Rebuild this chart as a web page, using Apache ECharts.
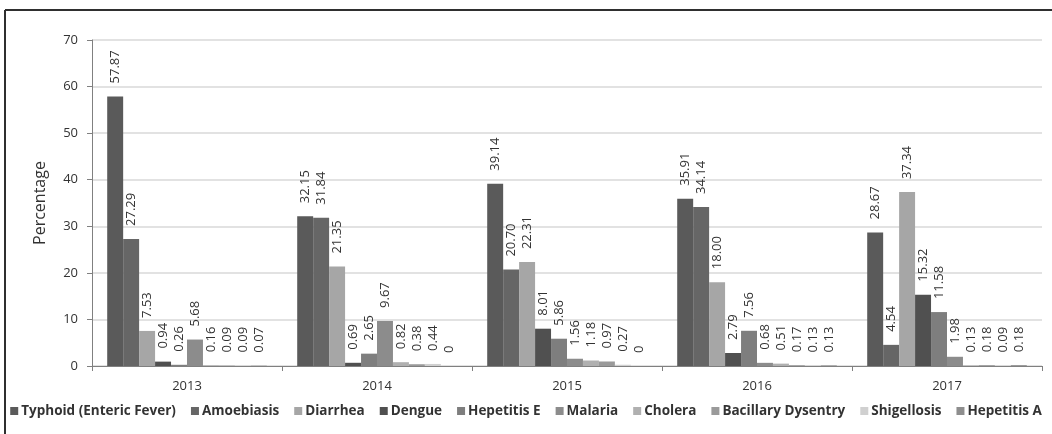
<!DOCTYPE html>
<html>
<head>
<meta charset="utf-8">
<script src="https://cdn.jsdelivr.net/npm/echarts@6/dist/echarts.min.js"></script>
<style>
  html, body { margin: 0; padding: 0; background: #ffffff; }
  #chart { width: 1052px; height: 434px; }
</style>
</head>
<body>
<div id="chart"></div>
<script>
// Years on the category axis
const years = ['2013', '2014', '2015', '2016', '2017'];

// Disease names (legend order)
const diseases = [
  'Typhoid (Enteric Fever)', 'Amoebiasis', 'Diarrhea', 'Dengue', 'Hepetitis E',
  'Malaria', 'Cholera', 'Bacillary Dysentry', 'Shigellosis', 'Hepetitis A'
];

// Percentage per disease, one value per year
const typhoid    = [57.87, 32.15, 39.14, 35.91, 28.67];
const amoebiasis = [27.29, 31.84, 20.70, 34.14, 4.54];
const diarrhea   = [7.53, 21.35, 22.31, 18.00, 37.34];
const dengue     = [0.94, 0.69, 8.01, 2.79, 15.32];
const hepetitisE = [0.26, 2.65, 5.86, 7.56, 11.58];
const malaria    = [5.68, 9.67, 1.56, 0.68, 1.98];
const cholera    = [0.16, 0.82, 1.18, 0.51, 0.13];
const bacillary  = [0.09, 0.38, 0.97, 0.17, 0.18];
const shigellosis= [0.09, 0.44, 0.27, 0.13, 0.09];
const hepetitisA = [0.07, 0, 0, 0.13, 0.18];

// Y axis ticks
const yTicks = [0, 10, 20, 30, 40, 50, 60, 70];

const seriesValues = [typhoid, amoebiasis, diarrhea, dengue, hepetitisE,
  malaria, cholera, bacillary, shigellosis, hepetitisA];

const shades = ['#5a5a5a', '#666666', '#a6a6a6', '#505050', '#7e7e7e',
  '#8c8c8c', '#b0b0b0', '#9a9a9a', '#d0d0d0', '#8e8e8e'];

const textColor = '#333333';
const font = '"Open Sans", "Liberation Sans", sans-serif';

const chart = echarts.init(document.getElementById('chart'), null, { renderer: 'canvas' });

chart.setOption({
  backgroundColor: '#ffffff',
  animation: false,
  grid: { left: 92, right: 10, top: 40, bottom: 68, containLabel: false },
  legend: {
    bottom: 11,
    left: 'center',
    itemWidth: 8,
    itemHeight: 8,
    itemGap: 15,
    icon: 'rect',
    data: diseases,
    textStyle: { fontFamily: font, fontWeight: 'bold', fontSize: 13.5, color: textColor, padding: [0, 0, 0, -2] }
  },
  xAxis: {
    type: 'category',
    data: years,
    axisLine: { lineStyle: { color: '#808080', width: 1 } },
    axisTick: { show: true, alignWithLabel: false, length: 5, lineStyle: { color: '#808080' } },
    axisLabel: { fontFamily: font, fontSize: 13, color: textColor, margin: 14 }
  },
  yAxis: {
    type: 'value',
    min: yTicks[0],
    max: yTicks[yTicks.length - 1],
    interval: 10,
    name: 'Percentage',
    nameLocation: 'middle',
    nameGap: 44,
    nameTextStyle: { fontFamily: font, fontSize: 16, color: textColor },
    axisLine: { show: true, lineStyle: { color: '#808080', width: 1 } },
    axisTick: { show: true, length: 5, lineStyle: { color: '#808080' } },
    axisLabel: { fontFamily: font, fontSize: 13, color: textColor, margin: 14 },
    splitLine: { show: true, lineStyle: { color: '#d9d9d9', width: 1.5 } }
  },
  series: diseases.map((name, i) => ({
    name: name,
    type: 'bar',
    data: seriesValues[i],
    barGap: '0%',
    barCategoryGap: '16%',
    itemStyle: { color: shades[i] },
    label: {
      show: true,
      position: 'top',
      rotate: 90,
      align: 'left',
      verticalAlign: 'middle',
      distance: 13,
      fontFamily: font,
      fontSize: 13,
      color: textColor,
      formatter: p => (p.value === 0 ? '0' : p.value.toFixed(2))
    }
  })),
  graphic: [
    { type: 'line', shape: { x1: 5, y1: 10, x2: 1052, y2: 10 }, style: { stroke: '#2f2f2f', lineWidth: 2 } },
    { type: 'line', shape: { x1: 5, y1: 10, x2: 5, y2: 434 }, style: { stroke: '#2f2f2f', lineWidth: 2 } }
  ]
});
</script>
</body>
</html>
